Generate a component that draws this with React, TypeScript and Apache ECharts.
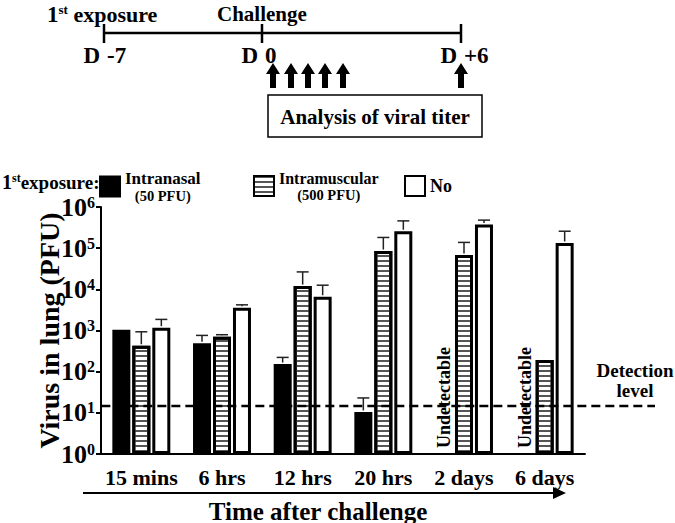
import React, { useEffect, useRef } from 'react';
import * as echarts from 'echarts';

const categories = ['15 mins', '6 hrs', '12 hrs', '20 hrs', '2 days', '6 days'];
const seriesNames = ['Intranasal', 'Intramuscular', 'No'];
const seriesDoses = ['(50 PFU)', '(500 PFU)', ''];
const intranasal = [1050, 490, 153, 10.5, null, null];
const intranasalErr = [null, 760, 222, 23, null, null];
const intramuscular = [425, 705, 12000, 85000, 68000, 191];
const intramuscularErr = [930, 790, 26500, 182000, 138000, null];
const noExposure = [1170, 3550, 6600, 258000, 377000, 134000];
const noExposureErr = [1860, 4200, 12600, 460000, 480000, 258000];
const undetectableCats = [4, 5];
const detectionLevel = 14.6;
const timelineLabels = [['D', '-7'], ['D', '0'], ['D', '+6']];

const F = 'Liberation Serif';
const BAR_STEP = 20;

export default function App() {
  const ref = useRef<HTMLDivElement>(null);
  useEffect(() => {
    document.body.style.margin = '0';
    const chart = echarts.init(ref.current!, null, { renderer: 'svg' });
    const bold = (size: number) => ({ fontFamily: F, fontWeight: 'bold', fontSize: size, fill: '#000' });

    const errData: any[] = [];
    [[intranasal, intranasalErr], [intramuscular, intramuscularErr], [noExposure, noExposureErr]].forEach(
      ([vals, errs], s) => {
        vals.forEach((v, i) => {
          if (v != null && errs[i] != null) errData.push([i, v, errs[i], s]);
        });
      }
    );

    const tickX = [104, 262, 461];
    const arrowX = [273, 291, 308, 325, 343, 461];
    const baseGraphics: any[] = [
      { type: 'text', x: 47, y: 14, style: { text: '{a|1}{s|st}{b| exposure}', verticalAlign: 'middle', rich: { a: { fontFamily: F, fontWeight: 'bold', fontSize: 23 }, s: { fontFamily: F, fontWeight: 'bold', fontSize: 13, verticalAlign: 'top', padding: [0, 0, 10, 0] }, b: { fontFamily: F, fontWeight: 'bold', fontSize: 22 } } } },
      { type: 'text', x: 217, y: 14, style: { text: 'Challenge', verticalAlign: 'middle', ...bold(21) } },
      { type: 'line', shape: { x1: 104, y1: 33, x2: 461, y2: 33 }, style: { stroke: '#000', lineWidth: 2.5 } },
      ...tickX.map((x) => ({ type: 'line', shape: { x1: x, y1: 24, x2: x, y2: 43 }, style: { stroke: '#000', lineWidth: 2.5 } })),
      ...tickX.flatMap((x, i) => [
        { type: 'text', x: x - 4, y: 55, style: { text: timelineLabels[i][0], align: 'right', verticalAlign: 'middle', ...bold(23) } },
        { type: 'text', x: x + 3, y: 55, style: { text: timelineLabels[i][1], align: 'left', verticalAlign: 'middle', ...bold(23) } },
      ]),
      ...arrowX.map((x) => ({
        type: 'polygon',
        shape: { points: [[x, 63], [x + 7, 74], [x + 3, 74], [x + 3, 88], [x - 3, 88], [x - 3, 74], [x - 7, 74]] },
        style: { fill: '#000' },
      })),
      { type: 'rect', shape: { x: 268, y: 95, width: 214, height: 42 }, style: { fill: 'none', stroke: '#000', lineWidth: 1.5 } },
      { type: 'text', x: 375, y: 117, style: { text: 'Analysis of viral titer', align: 'center', verticalAlign: 'middle', ...bold(21) } },
      { type: 'text', x: 2, y: 182, style: { text: '{a|1}{s|st}{b|exposure:}', verticalAlign: 'middle', rich: { a: { fontFamily: F, fontWeight: 'bold', fontSize: 20 }, s: { fontFamily: F, fontWeight: 'bold', fontSize: 12, verticalAlign: 'top', padding: [0, 0, 9, 0] }, b: { fontFamily: F, fontWeight: 'bold', fontSize: 19 } } } },
      { type: 'text', x: 635, y: 380, style: { text: 'Detection\nlevel', align: 'center', verticalAlign: 'middle', lineHeight: 20, ...bold(19) } },
      { type: 'line', shape: { x1: 83, y1: 493, x2: 556, y2: 493 }, style: { stroke: '#000', lineWidth: 2 } },
      { type: 'polygon', shape: { points: [[566, 493], [553, 487], [553, 499]] }, style: { fill: '#000' } },
      { type: 'text', x: 318, y: 511, style: { text: 'Time after challenge', align: 'center', verticalAlign: 'middle', ...bold(25) } },
    ];

    const legendLeft = [99, 253, 404];
    const legendTop = [170, 170, 175];
    const legendFont = [17, 16, 18];
    const option: any = {
      animation: false,
      grid: { left: 101, right: 90, top: 207, bottom: 69 },
      legend: seriesNames.map((n, i) => ({
        data: [n],
        left: legendLeft[i],
        top: legendTop[i],
        padding: 0,
        icon: 'rect',
        itemWidth: 20,
        itemHeight: 20,
        selectedMode: false,
        formatter: (name: string) => (seriesDoses[i] ? `{a|${name}}\n{b|${seriesDoses[i]}}` : `{c|${name}}`),
        textStyle: {
          color: '#000',
          rich: {
            a: { fontFamily: F, fontWeight: 'bold', fontSize: legendFont[i], align: 'center', lineHeight: 18 },
            b: { fontFamily: F, fontWeight: 'bold', fontSize: 14.5, align: 'center', lineHeight: 16 },
            c: { fontFamily: F, fontWeight: 'bold', fontSize: legendFont[i], lineHeight: 20 },
          },
        },
      })),
      xAxis: {
        type: 'category',
        data: categories,
        axisLine: { lineStyle: { color: '#000', width: 2 } },
        axisTick: { alignWithLabel: true, length: 6, lineStyle: { color: '#000', width: 2 } },
        axisLabel: { interval: 0, color: '#000', fontFamily: F, fontWeight: 'bold', fontSize: 22, margin: 12 },
      },
      yAxis: {
        type: 'log',
        logBase: 10,
        min: 1,
        max: 1e6,
        name: 'Virus in lung (PFU)',
        nameLocation: 'middle',
        nameRotate: 90,
        nameGap: 38,
        nameMoveOverlap: false,
        nameTextStyle: { color: '#000', fontFamily: F, fontWeight: 'bold', fontSize: 28 },
        splitLine: { show: false },
        axisLine: { show: true, lineStyle: { color: '#000', width: 2 } },
        axisTick: { show: true, length: 5, lineStyle: { color: '#000', width: 2 } },
        axisLabel: {
          margin: 6,
          formatter: (v: number) => `{b|10}{s|${Math.round(Math.log10(v))}}`,
          rich: {
            b: { color: '#000', fontFamily: F, fontWeight: 'bold', fontSize: 26 },
            s: { color: '#000', fontFamily: F, fontWeight: 'bold', fontSize: 16, verticalAlign: 'top', padding: [0, 0, 10, 0] },
          },
        },
      },
      series: [
        { type: 'bar', name: seriesNames[0], data: intranasal, barWidth: 18, barGap: '11%', itemStyle: { color: '#000', borderColor: '#000', borderWidth: 3 } },
        {
          type: 'bar', name: seriesNames[1], data: intramuscular, barWidth: 18, barGap: '11%',
          itemStyle: {
            color: '#fff', borderColor: '#000', borderWidth: 3,
            decal: { symbol: 'rect', symbolSize: 1, dashArrayX: [1, 0], dashArrayY: [2, 3], rotation: 0, color: '#555', backgroundColor: '#fff' },
          },
        },
        { type: 'bar', name: seriesNames[2], data: noExposure, barWidth: 18, barGap: '11%', itemStyle: { color: '#fff', borderColor: '#000', borderWidth: 3 } },
        {
          type: 'custom',
          data: errData,
          encode: { x: 0, y: 1 },
          z: 5,
          renderItem: (_p: any, api: any) => {
            const cat = api.value(0), v = api.value(1), e = api.value(2), s = api.value(3);
            const p = api.coord([cat, v]);
            const q = api.coord([cat, e]);
            const x = p[0] + (s - 1) * BAR_STEP;
            return {
              type: 'group',
              children: [
                { type: 'line', shape: { x1: x, y1: p[1] - 1.5, x2: x, y2: q[1] }, style: { stroke: '#222', lineWidth: 1.5 } },
                { type: 'line', shape: { x1: x - 6, y1: q[1], x2: x + 6, y2: q[1] }, style: { stroke: '#222', lineWidth: 1.5 } },
              ],
            };
          },
        },
        {
          type: 'custom',
          data: undetectableCats.map((c) => [c, 1]),
          encode: { x: 0, y: 1 },
          z: 5,
          renderItem: (_p: any, api: any) => {
            const p = api.coord([api.value(0), 1]);
            return {
              type: 'text',
              x: p[0] - BAR_STEP,
              y: p[1] - 6,
              rotation: Math.PI / 2,
              style: { text: 'Undetectable', align: 'left', verticalAlign: 'middle', fill: '#000', fontFamily: F, fontWeight: 'bold', fontSize: 18 },
            };
          },
        },
      ],
      graphic: baseGraphics,
    };
    chart.setOption(option);
    const yDet = chart.convertToPixel({ yAxisIndex: 0 }, detectionLevel) as number;
    const x0 = chart.convertToPixel({ xAxisIndex: 0 }, 0) as number;
    chart.setOption({
      graphic: [
        ...baseGraphics,
        { type: 'line', z: 10, shape: { x1: x0 - 40, y1: yDet, x2: 655, y2: yDet }, style: { stroke: '#000', lineWidth: 2.5, lineDash: [9, 5] } },
      ],
    });
    return () => chart.dispose();
  }, []);
  return <div ref={ref} style={{ width: 675, height: 523 }} />;
}
